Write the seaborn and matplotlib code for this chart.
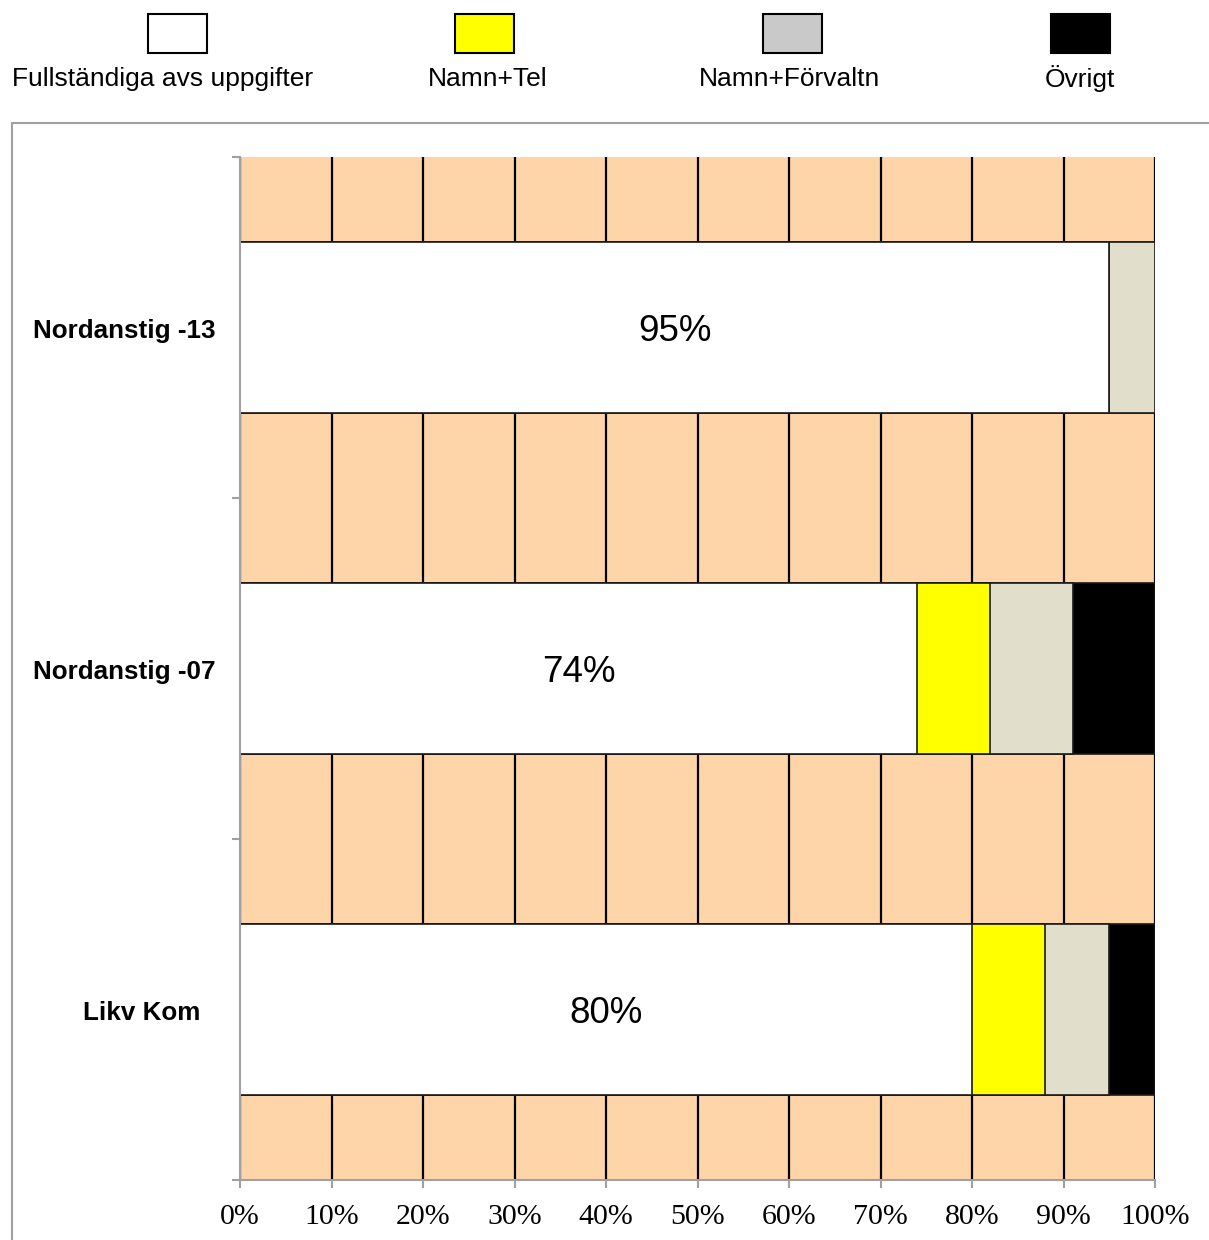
import matplotlib
matplotlib.use("Agg")
import matplotlib.pyplot as plt
from matplotlib.patches import Rectangle
from matplotlib.ticker import FixedLocator
from matplotlib.transforms import blended_transform_factory
import numpy as np
import pandas as pd
import seaborn as sns

# ---- data ----
categories = ["Nordanstig -13", "Nordanstig -07", "Likv Kom"]
series_names = ["Fullständiga avs uppgifter", "Namn+Tel", "Namn+Förvaltn", "Övrigt"]
fullstandiga = [95, 74, 80]
namn_tel = [0, 8, 8]
namn_forvaltn = [5, 9, 7]
ovrigt = [0, 9, 5]
x_ticks = [0, 10, 20, 30, 40, 50, 60, 70, 80, 90, 100]
x_tick_labels = [f"{t}%" for t in x_ticks]

# ---- styling ----
bar_colors = ["#FFFFFF", "#FFFF00", "#E1DECC", "#000000"]
legend_colors = ["#FFFFFF", "#FFFF00", "#C9C9C9", "#000000"]
plot_bg = "#FED5A9"
axis_gray = "#A0A0A0"
sans = ["Liberation Sans", "DejaVu Sans"]
serif = ["Liberation Serif", "DejaVu Serif"]

plt.rcParams["font.family"] = sans

W, H = 1209, 1240
fig = plt.figure(figsize=(W / 100, H / 100), dpi=100)
ax = fig.add_axes([240 / W, 1 - 1180 / H, 915 / W, 1023 / H])
ax.set_facecolor(plot_bg)

# stacked bars: draw cumulative totals from the outermost segment inwards
df = pd.DataFrame({
    "kategori": categories,
    "full": fullstandiga,
    "tel": namn_tel,
    "forv": namn_forvaltn,
    "ovr": ovrigt,
})
cols = ["full", "tel", "forv", "ovr"]
cum = df[cols].cumsum(axis=1)
for i in reversed(range(len(cols))):
    sns.barplot(
        x=cum[cols[i]].values, y=df["kategori"], orient="h",
        color=bar_colors[i], saturation=1, width=0.5,
        edgecolor="#1A1A1A", linewidth=1.2, ax=ax, zorder=2,
    )

# percentage labels on the first segment
texts = ax.bar_label(ax.containers[-1], labels=[f"{v}%" for v in fullstandiga],
                     label_type="center", fontsize=26.5, family=sans, color="black")
for t in texts:
    t.xyann = (0, -3)

ax.set_xlim(0, 100)
ax.set_ylim(len(categories) - 0.5, -0.5)
ax.set_xlabel("")
ax.set_ylabel("")

# x axis
ax.xaxis.set_major_locator(FixedLocator(x_ticks))
ax.set_xticklabels(x_tick_labels, family=serif, fontsize=21.5)
ax.tick_params(axis="x", length=6, width=1.5, color=axis_gray, pad=11)

# y axis: category boundary ticks, labels drawn as text
ax.set_yticks([])
ax.yaxis.set_minor_locator(FixedLocator(np.arange(-0.5, len(categories), 1.0)))
ax.tick_params(axis="y", which="minor", length=6, width=1.5, color=axis_gray)
trans = blended_transform_factory(ax.transAxes, ax.transData)
label_x = [-0.0273, -0.0273, -0.0437]
for i, name in enumerate(categories):
    ax.text(label_x[i], i + 0.01, name, transform=trans, ha="right", va="center",
            fontsize=18.7, fontweight="bold", family=sans)

# vertical gridlines behind the bars
ax.set_axisbelow(True)
ax.xaxis.grid(True, color="black", linewidth=1.6, zorder=0)
ax.yaxis.grid(False)

for side in ["top", "right"]:
    ax.spines[side].set_visible(False)
for side in ["left", "bottom"]:
    ax.spines[side].set_color(axis_gray)
    ax.spines[side].set_linewidth(1.5)

# chart frame
fig.add_artist(Rectangle((12 / W, -0.1), 1.2, (1 - 123 / H) + 0.1,
                         transform=fig.transFigure, fill=False,
                         edgecolor=axis_gray, linewidth=1.5))

# legend: swatch above label
patch_cx = [177.5, 484.5, 792, 1080]
text_cx = [163, 487.5, 789, 1080]
for name, col, pcx, tcx in zip(series_names, legend_colors, patch_cx, text_cx):
    fig.add_artist(Rectangle(((pcx - 29.5) / W, 1 - 53 / H), 59 / W, 39 / H,
                             transform=fig.transFigure, facecolor=col,
                             edgecolor="black", linewidth=1.5))
    fig.text(tcx / W, 1 - 79 / H, name, ha="center", va="center",
             fontsize=19, family=sans)

fig.savefig("out.png", dpi=100)
